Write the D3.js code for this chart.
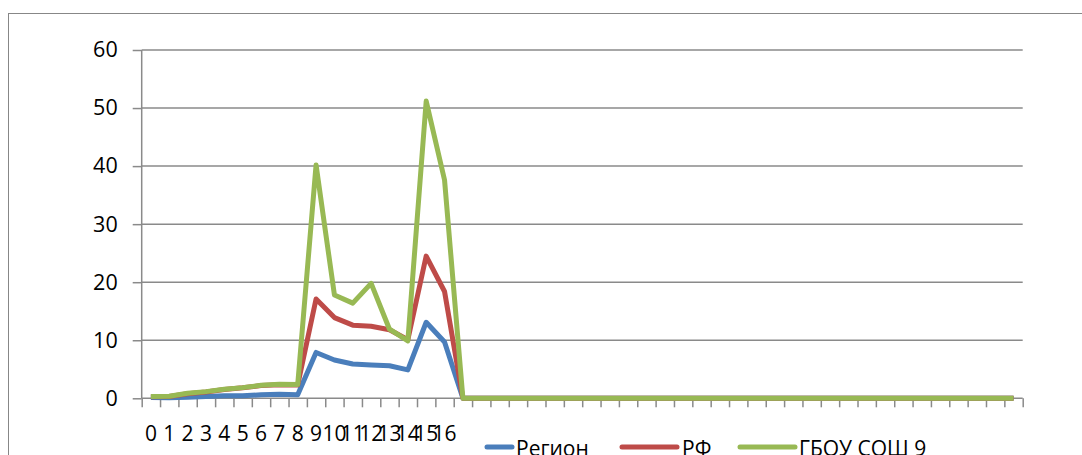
<!DOCTYPE html>
<html><head><meta charset="utf-8">
<script src="https://cdn.jsdelivr.net/npm/d3@7"></script>
<style>html,body{margin:0;padding:0;background:#fff;overflow:hidden}</style>
</head><body>
<svg id="chart" width="1082" height="455"></svg>
<script>
const tickLabels = ["0","1","2","3","4","5","6","7","8","9","10","11","12","13","14","15","16",
  "","","","","","","","","","","","","","","","","","","","","","","","","","","","","","",""];
const seriesNames = ["Регион","РФ","ГБОУ СОШ 9"];
const region = [0.15,0.1,0.2,0.3,0.45,0.45,0.6,0.7,0.6,7.9,6.6,5.9,5.75,5.6,4.9,13.1,9.7,
  0,0,0,0,0,0,0,0,0,0,0,0,0,0,0,0,0,0,0,0,0,0,0,0,0,0,0,0,0,0,0];
const rf = [0.25,0.3,0.8,1.1,1.5,1.8,2.2,2.35,2.3,17.1,13.9,12.6,12.4,11.8,10.1,24.5,18.4,
  0,0,0,0,0,0,0,0,0,0,0,0,0,0,0,0,0,0,0,0,0,0,0,0,0,0,0,0,0,0,0];
const school = [0.3,0.34,0.86,1.15,1.55,1.84,2.24,2.41,2.36,40.2,17.8,16.4,19.8,11.9,9.9,51.2,37.6,
  0,0,0,0,0,0,0,0,0,0,0,0,0,0,0,0,0,0,0,0,0,0,0,0,0,0,0,0,0,0,0];
const yTicks = [0,10,20,30,40,50,60];
const colors = ["#4A7EBB","#BE4B48","#98B954"];

(function(){
const svg = d3.select("#chart");
const font = "'Open Sans', 'Noto Sans', sans-serif";
const pLeft = 141.7, pRight = 1022.7, pTop = 50, pBottom = 398.3;

// outer frame
svg.append("rect").attr("x",8.5).attr("y",13.5).attr("width",1100).attr("height",500)
  .attr("fill","none").attr("stroke","#878787").attr("stroke-width",1);

const x = d3.scaleBand().domain(d3.range(tickLabels.length)).range([pLeft,pRight]).padding(0);
const xt = d3.scaleLinear().domain([0,tickLabels.length]).range([pLeft,pRight]);
const y = d3.scaleLinear().domain([0,60]).range([pBottom,pTop]);

// gridlines
svg.append("g").selectAll("line").data(yTicks.filter(d=>d>0)).join("line")
  .attr("x1",pLeft).attr("x2",pRight).attr("y1",d=>y(d)).attr("y2",d=>y(d))
  .attr("stroke","#8a8a8a").attr("stroke-width",1.5);

// y axis
const ya = svg.append("g").attr("transform",`translate(${pLeft},0)`)
  .call(d3.axisLeft(y).tickValues(yTicks).tickSize(9).tickPadding(15));
ya.selectAll("path,line").attr("stroke","#8a8a8a").attr("stroke-width",1.5);
ya.select("path").attr("d",`M0,${pTop}V${pBottom}`);
ya.selectAll("text").attr("font-family",font).attr("font-size",21.5).attr("fill","#000");

// x axis ticks at boundaries
const xa = svg.append("g").attr("transform",`translate(0,${pBottom})`)
  .call(d3.axisBottom(xt).tickValues(d3.range(tickLabels.length+1)).tickSize(9).tickFormat(""));
xa.selectAll("path,line").attr("stroke","#8a8a8a").attr("stroke-width",1.5);
xa.select("path").attr("d",`M${pLeft},0H${pRight}`);

// x labels
const xl = svg.append("g").attr("transform",`translate(0,${pBottom})`)
  .call(d3.axisBottom(x).tickSize(0).tickPadding(28).tickFormat((d,i)=>tickLabels[i]));
xl.select("path").remove();
xl.selectAll("text").attr("font-family",font).attr("font-size",21).attr("fill","#000");

// lines
const line = d3.line().x((d,i)=>x(i)+x.bandwidth()/2).y(d=>y(d));
[region,rf,school].forEach((s,k)=>{
  svg.append("path").datum(s).attr("d",line).attr("fill","none")
    .attr("stroke",colors[k]).attr("stroke-width",5).attr("stroke-linejoin","round");
});

// legend
const legendItems = [
  {name:seriesNames[0], x1:487, x2:512, tx:516},
  {name:seriesNames[1], x1:622, x2:677, tx:682},
  {name:seriesNames[2], x1:740, x2:795, tx:799}
];
const lg = svg.append("g");
legendItems.forEach((it,k)=>{
  lg.append("line").attr("x1",it.x1).attr("x2",it.x2).attr("y1",447).attr("y2",447)
    .attr("stroke",colors[k]).attr("stroke-width",5).attr("stroke-linecap","round");
  lg.append("text").attr("x",it.tx).attr("y",456).text(it.name)
    .attr("font-family",font).attr("font-size",21).attr("fill","#000");
});
})();
</script>
</body></html>
